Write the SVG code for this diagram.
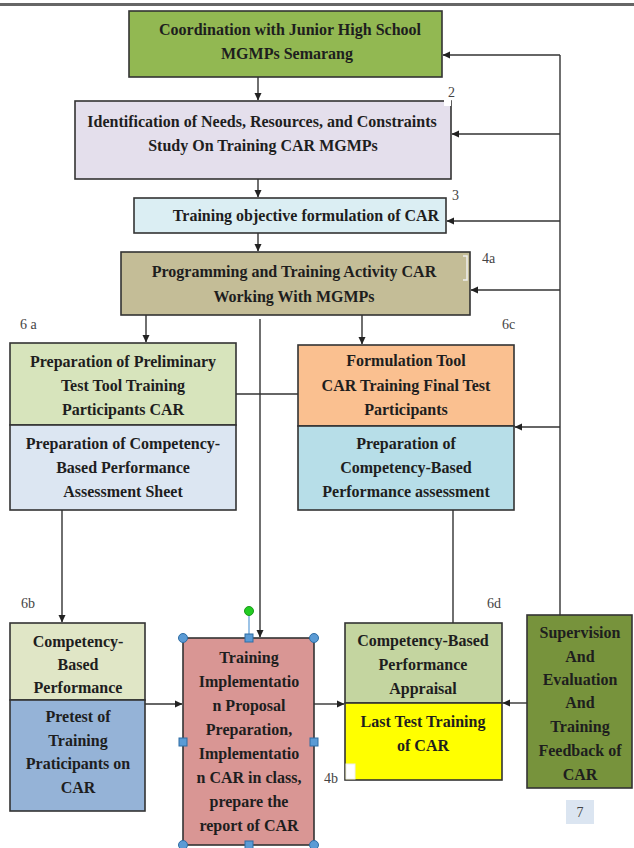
<svg xmlns="http://www.w3.org/2000/svg" width="634" height="848" viewBox="0 0 634 848">
<style>
.box{stroke:#333;stroke-width:1.6}
.t{font-family:"Liberation Serif","Times New Roman",serif;font-weight:bold;font-size:16px;fill:#1e1e1e;text-anchor:middle}
.lbl{font-family:"Liberation Serif","Times New Roman",serif;font-size:14px;fill:#444}
.c{stroke:#333;stroke-width:1.4;fill:none}
.h{fill:#5b9bd5;stroke:#2e6da4;stroke-width:1}
</style>
<defs>
<marker id="ah" markerWidth="8" markerHeight="8" refX="7" refY="4" orient="auto" markerUnits="userSpaceOnUse">
<path d="M0,0.5 L7.5,4 L0,7.5 Z" fill="#222"/>
</marker>
</defs>
<rect width="634" height="848" fill="#fff"/>
<line x1="0" y1="4.5" x2="634" y2="4.5" stroke="#666" stroke-width="3"/>

<g id="connectors">
<line class="c" x1="258" y1="77" x2="258" y2="100" marker-end="url(#ah)"/>
<line class="c" x1="258" y1="179" x2="258" y2="197" marker-end="url(#ah)"/>
<line class="c" x1="258" y1="233" x2="258" y2="251" marker-end="url(#ah)"/>
<line class="c" x1="146" y1="315" x2="146" y2="342" marker-end="url(#ah)"/>
<line class="c" x1="362" y1="315" x2="362" y2="344" marker-end="url(#ah)"/>
<line class="c" x1="260" y1="319" x2="260" y2="637" marker-end="url(#ah)"/>
<line class="c" x1="236" y1="394" x2="298" y2="394"/>
<line class="c" x1="62" y1="510" x2="62" y2="622" marker-end="url(#ah)"/>
<line class="c" x1="453" y1="510" x2="453" y2="623"/>
<line class="c" x1="145" y1="704" x2="182" y2="704" marker-end="url(#ah)"/>
<line class="c" x1="314" y1="704" x2="344" y2="704" marker-end="url(#ah)"/>
<line class="c" x1="527" y1="703" x2="503" y2="703" marker-end="url(#ah)"/>
<line class="c" x1="560" y1="615" x2="560" y2="55"/>
<line class="c" x1="560" y1="55" x2="443" y2="55" marker-end="url(#ah)"/>
<line class="c" x1="560" y1="134" x2="452" y2="134" marker-end="url(#ah)"/>
<line class="c" x1="560" y1="221" x2="447" y2="221" marker-end="url(#ah)"/>
<line class="c" x1="560" y1="290" x2="471" y2="290" marker-end="url(#ah)"/>
<line class="c" x1="560" y1="427" x2="515" y2="427" marker-end="url(#ah)"/>
</g>

<g id="n1">
<rect class="box" x="129" y="11" width="313" height="66" fill="#92b852"/>
<text class="t" x="290" y="35">Coordination with Junior High School</text>
<text class="t" x="287" y="59">MGMPs Semarang</text>
</g>

<g id="n2">
<rect class="box" x="75" y="101" width="376" height="78" fill="#e4dfec"/>
<rect x="444" y="100" width="7" height="6" fill="#fff"/>
<text class="t" x="262" y="127">Identification of Needs, Resources, and Constraints</text>
<text class="t" x="263" y="151">Study On Training CAR MGMPs</text>
<text class="lbl" x="448" y="97">2</text>
</g>

<g id="n3">
<rect class="box" x="134" y="198" width="312" height="35" fill="#dbeef3"/>
<text class="t" x="306" y="221">Training objective formulation of CAR</text>
<text class="lbl" x="452" y="200">3</text>
</g>

<g id="n4">
<rect class="box" x="121" y="252" width="349" height="63" fill="#c4bd97"/>
<path d="M463,256 H467 V280 H463" fill="none" stroke="#eee" stroke-width="1.5"/>
<text class="t" x="294" y="277">Programming and Training Activity CAR</text>
<text class="t" x="294" y="302">Working With MGMPs</text>
<text class="lbl" x="482" y="263">4a</text>
</g>

<g id="n6a">
<rect class="box" x="10" y="343" width="226" height="82" fill="#d7e4bc"/>
<rect class="box" x="10" y="425" width="226" height="85" fill="#dce6f2"/>
<text class="t" x="123" y="367">Preparation of Preliminary</text>
<text class="t" x="123" y="391">Test Tool Training</text>
<text class="t" x="123" y="415">Participants CAR</text>
<text class="t" x="123" y="449">Preparation of Competency-</text>
<text class="t" x="123" y="473">Based Performance</text>
<text class="t" x="123" y="497">Assessment Sheet</text>
<text class="lbl" x="20" y="329">6 a</text>
</g>

<g id="n6c">
<rect class="box" x="298" y="345" width="216" height="81" fill="#fac090"/>
<rect class="box" x="298" y="426" width="216" height="84" fill="#b7dee8"/>
<text class="t" x="406" y="366">Formulation Tool</text>
<text class="t" x="406" y="391">CAR Training Final Test</text>
<text class="t" x="406" y="415">Participants</text>
<text class="t" x="406" y="449">Preparation of</text>
<text class="t" x="406" y="473">Competency-Based</text>
<text class="t" x="406" y="497">Performance assessment</text>
<text class="lbl" x="502" y="329">6c</text>
</g>

<g id="n6b">
<rect class="box" x="10" y="623" width="135" height="77" fill="#e0e6c6"/>
<rect class="box" x="10" y="700" width="135" height="111" fill="#95b3d7"/>
<text class="t" x="78" y="647">Competency-</text>
<text class="t" x="78" y="670">Based</text>
<text class="t" x="78" y="693">Performance</text>
<text class="t" x="78" y="722" fill="#1c2a44">Pretest of</text>
<text class="t" x="78" y="746" fill="#1c2a44">Training</text>
<text class="t" x="78" y="769" fill="#1c2a44">Praticipants on</text>
<text class="t" x="78" y="793" fill="#1c2a44">CAR</text>
<text class="lbl" x="21" y="608">6b</text>
</g>

<g id="n5">
<rect class="box" x="183" y="638" width="131" height="207" fill="#d99694"/>
<text class="t" x="249" y="663" fill="#3a1616">Training</text>
<text class="t" x="249" y="687" fill="#3a1616">Implementatio</text>
<text class="t" x="249" y="711" fill="#3a1616">n Proposal</text>
<text class="t" x="249" y="735" fill="#3a1616">Preparation,</text>
<text class="t" x="249" y="759" fill="#3a1616">Implementatio</text>
<text class="t" x="249" y="783" fill="#3a1616">n CAR in class,</text>
<text class="t" x="249" y="807" fill="#3a1616">prepare the</text>
<text class="t" x="249" y="831" fill="#3a1616">report of CAR</text>
<line x1="249" y1="611" x2="249" y2="638" stroke="#5b9bd5" stroke-width="1.2"/>
<circle cx="249" cy="611" r="4.5" fill="#22cc22" stroke="#1a9a1a"/>
<circle class="h" cx="183" cy="638" r="4.5"/>
<circle class="h" cx="314" cy="638" r="4.5"/>
<circle class="h" cx="183" cy="845" r="4.5"/>
<circle class="h" cx="314" cy="845" r="4.5"/>
<rect class="h" x="245" y="634" width="8" height="8"/>
<rect class="h" x="179" y="738" width="8" height="8"/>
<rect class="h" x="310" y="738" width="8" height="8"/>
<rect class="h" x="245" y="841" width="8" height="8"/>
</g>

<g id="n6d">
<rect class="box" x="345" y="623" width="157" height="80" fill="#c4d5a0"/>
<rect class="box" x="345" y="703" width="157" height="77" fill="#ffff00"/>
<rect x="346" y="764" width="9" height="15" fill="#fff" stroke="#eee"/>
<text class="t" x="423" y="646">Competency-Based</text>
<text class="t" x="423" y="670">Performance</text>
<text class="t" x="423" y="694">Appraisal</text>
<text class="t" x="423" y="727">Last Test Training</text>
<text class="t" x="423" y="751">of CAR</text>
<text class="lbl" x="487" y="608">6d</text>
<text class="lbl" x="324" y="783">4b</text>
</g>

<g id="n7">
<rect class="box" x="527" y="615" width="105" height="173" fill="#77933c"/>
<text class="t" x="580" y="638" fill="#111">Supervision</text>
<text class="t" x="580" y="662" fill="#111">And</text>
<text class="t" x="580" y="685" fill="#111">Evaluation</text>
<text class="t" x="580" y="708" fill="#111">And</text>
<text class="t" x="580" y="732" fill="#111">Training</text>
<text class="t" x="580" y="756" fill="#111">Feedback of</text>
<text class="t" x="580" y="780" fill="#111">CAR</text>
<rect x="566" y="800" width="28" height="24" fill="#dbe5f1"/>
<text class="lbl" x="580" y="817" text-anchor="middle">7</text>
</g>
</svg>
